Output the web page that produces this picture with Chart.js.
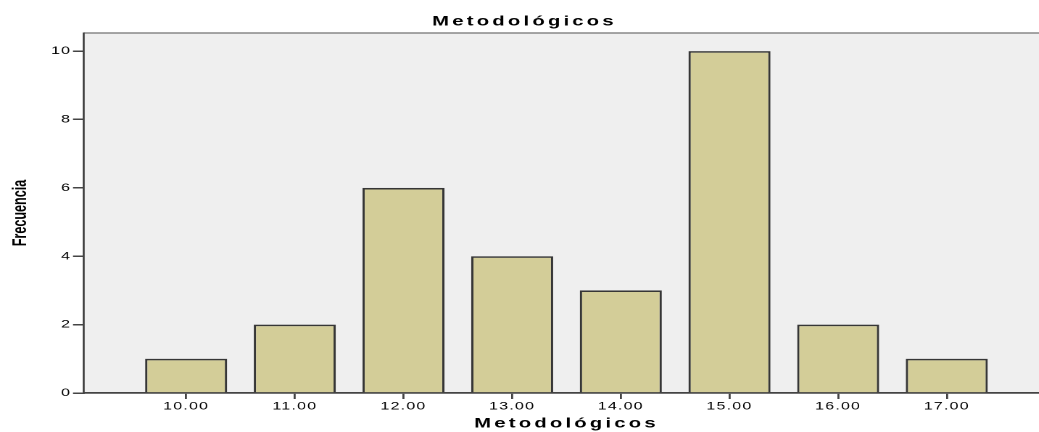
<!DOCTYPE html>
<html>
<head>
<meta charset="utf-8">
<script src="https://cdn.jsdelivr.net/npm/chart.js@4/dist/chart.umd.min.js"></script>
<style>
  html, body { margin: 0; padding: 0; background: #fff; overflow: hidden; }
  #clip { width: 1039px; height: 432px; overflow: hidden; }
  /* the original chart is stretched horizontally, so draw narrow and stretch */
  #wrap { width: 723.4px; height: 432px; position: relative;
          transform: scaleX(1.45); transform-origin: 0 0; }
</style>
</head>
<body>
<div id="clip"><div id="wrap"><canvas id="chart"></canvas></div></div>
<script>
(function () {
  "use strict";

  // categories (x values) and frequencies
  const categories = [10, 11, 12, 13, 14, 15, 16, 17];
  const frequencies = [1, 2, 6, 4, 3, 10, 2, 1];
  const yTicks = [0, 2, 4, 6, 8, 10];

  const chartTitle = "Metodológicos";
  const xTitle = "Metodológicos";
  const yTitle = "Frecuencia";

  const axisColor = "#444444";
  const fontFamily = "'Liberation Sans', Arial, sans-serif";

  // plot background, top frame line, text spacing and the y title
  const plotFrame = {
    id: "plotFrame",
    beforeDraw(chart) {
      const a = chart.chartArea;
      const ctx = chart.ctx;
      ctx.save();
      ctx.fillStyle = "#efefef";
      ctx.fillRect(a.left, a.top, a.right - a.left, a.bottom - a.top);
      ctx.strokeStyle = "#888888";
      ctx.lineWidth = 1.5;
      ctx.beginPath();
      ctx.moveTo(a.left, a.top);
      ctx.lineTo(a.right, a.top);
      ctx.stroke();
      ctx.restore();
      // titles are drawn before the bars, tick labels after them
      ctx.letterSpacing = "2.2px";
    },
    afterDatasetsDraw(chart) {
      chart.ctx.letterSpacing = "0.85px";
    },
    afterDraw(chart) {
      const ctx = chart.ctx;
      const a = chart.chartArea;
      ctx.save();
      ctx.letterSpacing = "0px";
      ctx.translate(14, (a.top + a.bottom) / 2);
      ctx.rotate(-Math.PI / 2);
      ctx.scale(0.9, 1);
      ctx.fillStyle = "#000";
      ctx.font = "bold 14px " + fontFamily;
      ctx.textAlign = "center";
      ctx.textBaseline = "middle";
      ctx.fillText(yTitle, 0, 0);
      ctx.restore();
    },
  };

  const ctx = document.getElementById("chart").getContext("2d");
  const chart = new Chart(ctx, {
    type: "bar",
    data: {
      datasets: [
        {
          label: "Frecuencia",
          data: categories.map((c, i) => ({ x: c, y: frequencies[i] })),
          backgroundColor: "#d3cd98",
          borderColor: "#363636",
          borderWidth: 1.6,
          barPercentage: 0.755,
          categoryPercentage: 1,
        },
      ],
    },
    options: {
      responsive: true,
      maintainAspectRatio: false,
      devicePixelRatio: 2,
      animation: false,
      layout: { padding: 0 },
      plugins: {
        legend: { display: false },
        tooltip: { enabled: false },
        title: {
          display: true,
          text: chartTitle,
          color: "#000",
          font: { family: fontFamily, size: 14, weight: "bold" },
          padding: { top: 13, bottom: 3.2 },
        },
      },
      scales: {
        x: {
          type: "linear",
          offset: false,
          min: 9.06,
          max: 17.94,
          afterBuildTicks(scale) {
            scale.ticks = categories.map((v) => ({ value: v }));
          },
          afterFit(scale) {
            scale.height = 39;
          },
          ticks: {
            z: 1,
            color: "#000",
            font: { family: fontFamily, size: 11 },
            padding: 1,
            maxRotation: 0,
            autoSkip: false,
            callback: (v) => Number(v).toFixed(2),
          },
          grid: {
            offset: false,
            drawOnChartArea: false,
            color: axisColor,
            lineWidth: 1.4,
            tickLength: 6,
          },
          border: { display: true, color: axisColor, width: 1.8 },
          title: {
            display: true,
            text: xTitle,
            color: "#000",
            font: { family: fontFamily, size: 14, weight: "bold" },
            padding: { top: 0, bottom: 0 },
          },
        },
        y: {
          min: 0,
          max: 10.53,
          afterBuildTicks(scale) {
            scale.ticks = yTicks.map((v) => ({ value: v }));
          },
          afterFit(scale) {
            scale.width = 57.93;
          },
          ticks: {
            z: 1,
            color: "#000",
            font: { family: fontFamily, size: 11 },
            padding: 1.2,
          },
          grid: {
            drawOnChartArea: false,
            color: axisColor,
            lineWidth: 1.5,
            tickLength: 7.6,
          },
          border: { display: true, color: axisColor, width: 1.4 },
          title: { display: false },
        },
      },
    },
    plugins: [plotFrame],
  });
})();
</script>
</body>
</html>
